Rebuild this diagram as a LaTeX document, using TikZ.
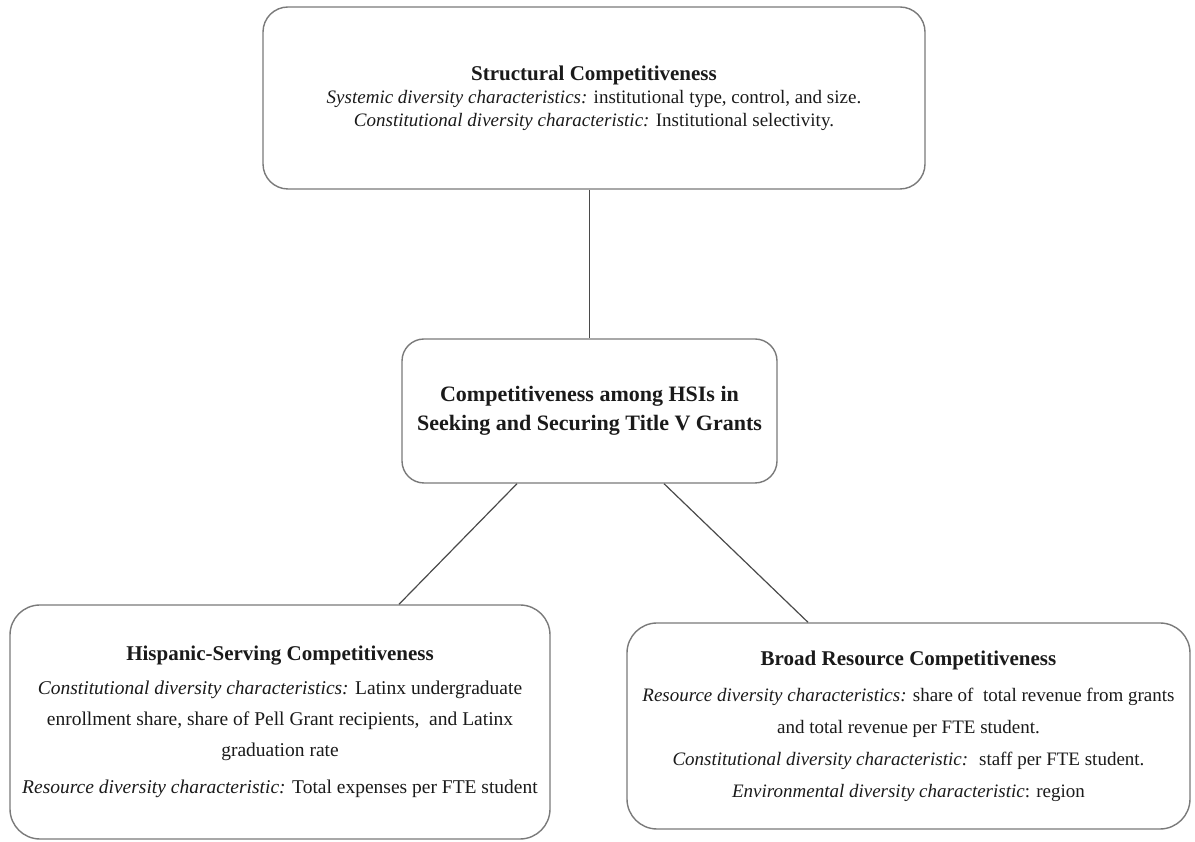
\documentclass[tikz,border=0pt]{standalone}
\usepackage{fontspec}
\setmainfont{Liberation Serif}
\definecolor{boxline}{HTML}{7A7A7A}
\definecolor{conn}{HTML}{4A4A4A}
\definecolor{txt}{HTML}{1A1A1A}
\newcommand{\boxtitle}[1]{{\fontsize{21}{23}\selectfont\bfseries #1}}
\begin{document}
\begin{tikzpicture}[x=1pt,y=1pt,
  box/.style={draw=boxline, line width=1.4pt, rounded corners=25pt, fill=white,
    inner sep=0pt, align=center, text=txt},
  conn/.style={draw=conn, line width=1.2pt}]
\useasboundingbox (0,0) rectangle (1195,842);
\node[box, minimum width=662pt, minimum height=182pt,
  font=\fontsize{19}{23}\selectfont] (top) at (594,744)
  {\boxtitle{Structural Competitiveness}\\
   \textit{Systemic diversity characteristics:} institutional type, control, and size.\\
   \textit{Constitutional diversity characteristic:} Institutional selectivity.};
\node[box, minimum width=375pt, minimum height=144pt, rounded corners=22pt,
  font=\fontsize{22}{29}\selectfont\bfseries] (mid) at (589.5,431)
  {Competitiveness among HSIs in\\ Seeking and Securing Title V Grants};
\node[box, minimum width=540pt, minimum height=234pt, rounded corners=30pt,
  font=\fontsize{19.5}{31}\selectfont] (left) at (280,120)
  {\boxtitle{Hispanic-Serving Competitiveness}\\[3pt]
   \textit{Constitutional diversity characteristics:} Latinx undergraduate\\
   enrollment share, share of Pell Grant recipients, \ and Latinx\\
   graduation rate\\[6pt]
   \textit{Resource diversity characteristic:} Total expenses per FTE student};
\node[box, minimum width=563pt, minimum height=206pt, rounded corners=30pt,
  font=\fontsize{19}{32}\selectfont] (right) at (908.5,116)
  {\boxtitle{Broad Resource Competitiveness}\\[4pt]
   \textit{Resource diversity characteristics:} share of \ total revenue from grants\\
   and total revenue per FTE student.\\
   \textit{Constitutional diversity characteristic:} \ staff per FTE student.\\
   \textit{Environmental diversity characteristic}: region};
\draw[conn] (top.south -| mid.north) -- (mid.north);
\draw[conn] ([xshift=-72.5pt]mid.south) -- ([xshift=119pt]left.north);
\draw[conn] ([xshift=74.5pt]mid.south) -- ([xshift=-100.5pt]right.north);
\end{tikzpicture}
\end{document}
